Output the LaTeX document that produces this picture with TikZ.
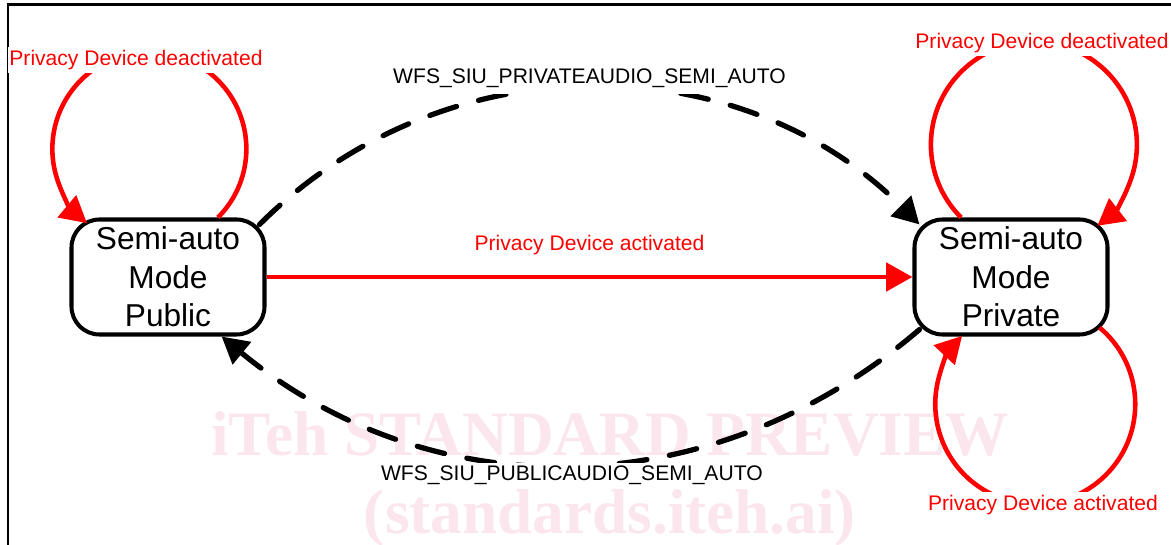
\documentclass[tikz,border=0pt]{standalone}
\usepackage{fontspec}
\setmainfont{Liberation Sans}
\newfontfamily\wmfont{Liberation Serif}
\usepackage{tikz}
\usetikzlibrary{arrows.meta}
\definecolor{wmpink}{RGB}{251,230,237}
\tikzset{
  mode/.style={draw, line width=2.3pt, rounded corners=0.56cm, fill=white,
    minimum width=3.86cm, minimum height=2.30cm, inner sep=0pt, align=center,
    font=\fontsize{18}{22}\selectfont},
  redtxt/.style={text=red, fill=white, inner xsep=1pt, inner ysep=2pt,
    font=\fontsize{12}{14}\selectfont},
  blktxt/.style={fill=white, inner xsep=1pt, inner ysep=2pt,
    font=\fontsize{12}{14}\selectfont},
  wmark/.style={text=wmpink, inner sep=0pt, anchor=base,
    font=\wmfont\bfseries\fontsize{36}{36}\selectfont},
  redarr/.style={red, line width=2.6pt, ->},
  dasharr/.style={line width=3pt, line cap=round, dash pattern=on 16pt off 13pt, ->}
}
\begin{document}
\begin{tikzpicture}[>={Triangle[length=15pt,width=16pt]}]
  \useasboundingbox (0,0) rectangle (23.42,10.88);
  \node [wmark] (wmA) at (12.2,1.78) {iTeh STANDARD PREVIEW};
  \node [wmark] (wmB) at (12.2,0.22) {(standards.iteh.ai)};
  \draw [line width=1.6pt] (0.16,-0.2) -- (0.16,10.79) -- (23.7,10.79);
  \node [mode] (pub) at (3.36,5.34) {Semi-auto\\Mode\\Public};
  \node [mode] (priv) at (20.22,5.34) {Semi-auto\\Mode\\Private};
  \draw [redarr] (pub) -- (priv) node [redtxt, midway, yshift=0.64cm]
    (lblMid) {Privacy Device activated};
  \draw [redarr] (pub.50) arc [start angle=-45, end angle=230, radius=1.94];
  \draw [redarr] (priv.130) arc [start angle=225, end angle=-52, radius=2.06];
  \draw [redarr] ([shift={(-0.2,0.18)}]priv.south east)
    arc [start angle=50, end angle=-223, radius=2.0];
  \node [redtxt] (lblTL) at (2.72,9.68) {Privacy Device deactivated};
  \node [redtxt] (lblTR) at (20.84,10.02) {Privacy Device deactivated};
  \node [redtxt] (lblBR) at (20.86,0.78) {Privacy Device activated};
  \draw [dasharr] ([shift={(-0.14,-0.14)}]pub.north east) to [bend left=45]
    node [blktxt, inner ysep=4pt, midway, yshift=0.2cm] (lblPrivAudio)
    {WFS\_SIU\_PRIVATEAUDIO\_SEMI\_AUTO}
    ([shift={(0.14,-0.14)}]priv.north west);
  \draw [dasharr] ([shift={(0.14,0.14)}]priv.south west) to [bend left=40]
    node [blktxt, midway, yshift=-0.22cm] (lblPubAudio)
    {WFS\_SIU\_PUBLICAUDIO\_SEMI\_AUTO}
    (pub.-48);
\end{tikzpicture}
\end{document}
